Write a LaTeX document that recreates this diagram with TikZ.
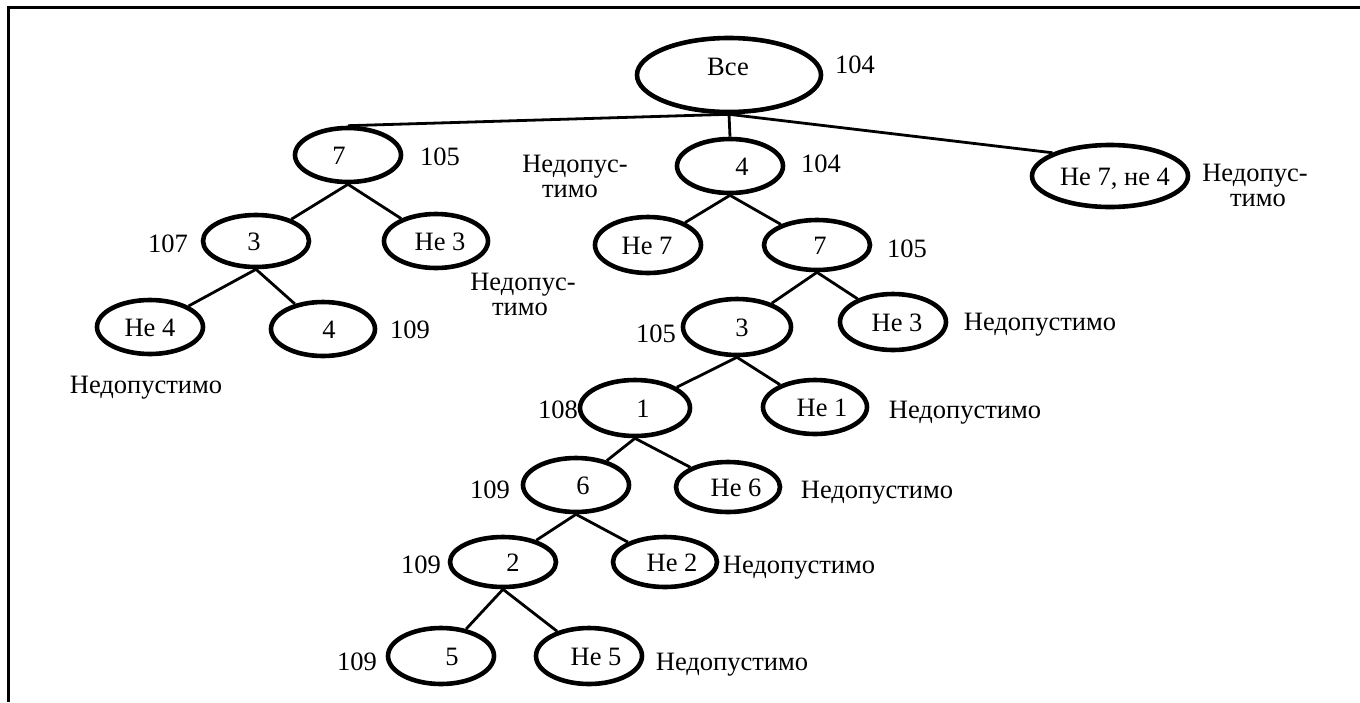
\documentclass[tikz,border=0pt]{standalone}
\usepackage{fontspec}
\setmainfont{Liberation Serif}
\newfontfamily\treefont{Liberation Serif}
\usetikzlibrary{shapes.geometric}
% text inside an oval, moved sideways by #1 pt
\newcommand\ovt[2]{\makebox[0pt]{\hspace*{#1pt}\hspace*{#1pt}#2}}
\tikzset{
  ov/.style={draw, shape=ellipse, line width=4.6pt, inner sep=0pt,
             minimum width=106pt, minimum height=54pt,
             text height=18pt, text depth=0pt},
  lbl/.style={anchor=base, inner sep=0pt},
  edge/.style={line width=2.8pt},
  frame/.style={line width=3pt},
}
\begin{document}
\begin{tikzpicture}[x=1pt, y=-1pt, every node/.style={font=\treefont\fontsize{26.5}{24}\selectfont}]
\useasboundingbox (0,0) rectangle (1360,702);
\draw[frame] (8.5,702) -- (8.5,7) -- (1360,7);

% ovals
\node[ov, minimum width=184pt, minimum height=74pt] (root) at (729,75) {\raisebox{9pt}{\ovt{-1}{Все}}};
\node[ov] (a7) at (348,155) {\ovt{-9}{7}};
\node[ov] (a4) at (730,166) {\ovt{12}{4}};
\node[ov, minimum width=156pt, minimum height=62pt] (a74) at (1110,176) {\ovt{5}{Не 7, не 4}};
\node[ov, minimum height=52pt] (b3) at (256,241) {\ovt{-2}{3}};
\node[ov, minimum width=104pt] (bn3) at (436,241) {\ovt{4}{Не 3}};
\node[ov] (cn4) at (150,327) {\ovt{0}{Не 4}};
\node[ov, minimum width=104pt] (c4) at (323,329) {\ovt{6}{4}};
\node[ov, minimum height=56pt] (dn7) at (648,245) {\ovt{-1}{Не 7}};
\node[ov, minimum height=50pt] (d7) at (817,245) {\ovt{3}{7}};
\node[ov, minimum width=108pt, minimum height=56pt] (e3) at (737,327) {\ovt{5}{3}};
\node[ov, minimum height=56pt] (en3) at (893,322) {\ovt{4}{Не 3}};
\node[ov, minimum width=110pt, minimum height=56pt] (f1) at (635,408) {\ovt{8}{1}};
\node[ov, minimum width=104pt] (fn1) at (815,407) {\ovt{7}{Не 1}};
\node[ov] (g6) at (576,485) {\ovt{7}{6}};
\node[ov, minimum width=104pt, minimum height=50pt] (gn6) at (728,487) {\ovt{8}{Не 6}};
\node[ov, minimum height=50pt] (h2) at (503,562) {\ovt{10}{2}};
\node[ov, minimum width=104pt, minimum height=50pt] (hn2) at (665,562) {\ovt{7}{Не 2}};
\node[ov, minimum height=56pt] (i5) at (441,656) {\ovt{11}{5}};
\node[ov, minimum height=56pt] (in5) at (589,656) {\ovt{7}{Не 5}};

% branches
\draw[edge] (root.south) -- (a7.north);
\draw[edge] (root.south) -- (a4.north);
\draw[edge] (root.south) -- (a74.158);
\draw[edge] (a7.south) -- (b3);
\draw[edge] (a7.south) -- (bn3);
\draw[edge] (b3.south) -- (cn4);
\draw[edge] (b3.south) -- (c4);
\draw[edge] (a4.south) -- (dn7);
\draw[edge] (a4.south) -- (d7);
\draw[edge] (d7.south) -- (e3);
\draw[edge] (d7.south) -- (en3);
\draw[edge] (e3.south) -- (f1);
\draw[edge] (e3.south) -- (fn1);
\draw[edge] (f1.south) -- (g6);
\draw[edge] (f1.south) -- (gn6);
\draw[edge] (g6.south) -- (h2);
\draw[edge] (g6.south) -- (hn2);
\draw[edge] (h2.south) -- (i5);
\draw[edge] (h2.south) -- (in5);

% bounds and verdicts
\node[lbl] (l-root) at (855,73) {104};
\node[lbl] (l-a7) at (440,165) {105};
\node[lbl] (l-a4) at (821,172) {104};
\node[lbl] (l-a4n1) at (575,172) {Недопус-};
\node[lbl] (l-a4n2) at (570,197) {тимо};
\node[lbl] (l-a74n1) at (1255,181) {Недопус-};
\node[lbl] (l-a74n2) at (1258,206) {тимо};
\node[lbl] (l-b3) at (168,252) {107};
\node[lbl] (l-bn3n1) at (523,290) {Недопус-};
\node[lbl] (l-bn3n2) at (520,315) {тимо};
\node[lbl] (l-cn4) at (146,393) {Недопустимо};
\node[lbl] (l-c4) at (410,338) {109};
\node[lbl] (l-d7) at (907,257) {105};
\node[lbl] (l-e3) at (656,342) {105};
\node[lbl] (l-en3) at (1040,330) {Недопустимо};
\node[lbl] (l-f1) at (558,418) {108};
\node[lbl] (l-fn1) at (965,418) {Недопустимо};
\node[lbl] (l-g6) at (490,498) {109};
\node[lbl] (l-gn6) at (877,498) {Недопустимо};
\node[lbl] (l-h2) at (421,573) {109};
\node[lbl] (l-hn2) at (799,573) {Недопустимо};
\node[lbl] (l-i5) at (357,670) {109};
\node[lbl] (l-in5) at (732,670) {Недопустимо};
\end{tikzpicture}
\end{document}
